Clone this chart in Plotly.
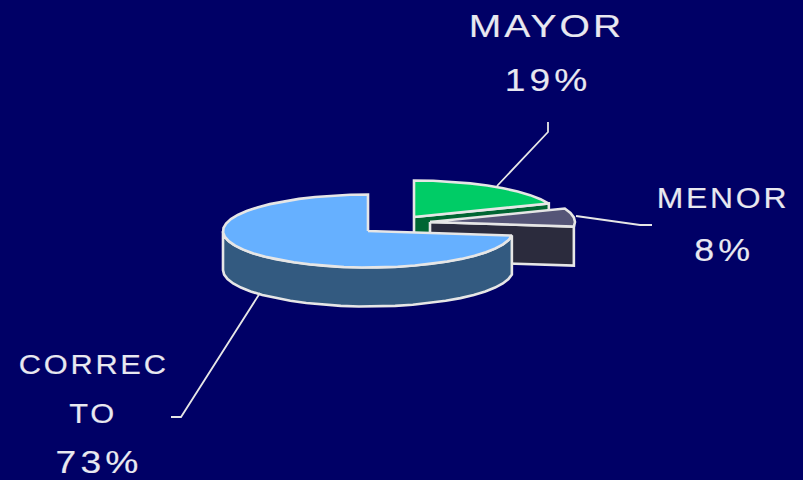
import json
import numpy as np
import plotly.graph_objects as go

categories = ["CORRECTO", "MAYOR", "MENOR"]
values = [73, 19, 8]
label_lines = [["CORREC", "TO", "73%"], ["MAYOR", "19%"], ["MENOR", "8%"]]

BG = "#000066"
EDGE = "#e6e6e6"
TEXT = "#e8e8f0"
top_colors = {"CORRECTO": "#66b0ff", "MAYOR": "#00cc66", "MENOR": "#555577"}
wall_colors = {"CORRECTO": "#335a80", "MAYOR": "#006633", "MENOR": "#2b2b3d"}
centres = {"CORRECTO": (368, 231), "MAYOR": (414, 217), "MENOR": (430, 222)}
RX, RY, DEPTH = 145, 36.5, 39

# Angular spans follow the values: clockwise from 12 o'clock, starting at MAYOR
deg = {c: v * 3.6 for c, v in zip(categories, values)}
spans = {
    "MAYOR": (90, 90 - deg["MAYOR"]),
    "MENOR": (90 - deg["MAYOR"], 90 - deg["MAYOR"] - deg["MENOR"]),
    "CORRECTO": (90 - deg["MAYOR"] - deg["MENOR"], 90 - 360),
}


def arc(c, a0, a1, dy=0):
    n = max(3, int(abs(a1 - a0) / 7) + 1)
    t = np.radians(np.linspace(a0, a1, n))
    cx, cy = centres[c]
    return cx + RX * np.cos(t), cy - RY * np.sin(t) + dy


def poly(fig, xs, ys, color):
    fig.add_trace(go.Scatter(
        x=np.append(xs, xs[0]), y=np.append(ys, ys[0]), mode="lines",
        fill="toself", fillcolor=color, line=dict(color=EDGE, width=2.6),
        hoverinfo="skip", showlegend=False))


def cut_wall(fig, c, angle):
    cx, cy = centres[c]
    ex, ey = arc(c, angle, angle)
    ex, ey = ex[0], ey[0]
    poly(fig, np.array([cx, ex, ex, cx]), np.array([cy, ey, ey + DEPTH, cy + DEPTH]), wall_colors[c])


def top_face(fig, c):
    a0, a1 = spans[c]
    x, y = arc(c, a0, a1)
    cx, cy = centres[c]
    poly(fig, np.concatenate([[cx], x]), np.concatenate([[cy], y]), top_colors[c])


fig = go.Figure()

# Back slices first
cut_wall(fig, "MAYOR", spans["MAYOR"][1])
top_face(fig, "MAYOR")
cut_wall(fig, "MENOR", spans["MENOR"][1])
top_face(fig, "MENOR")

# Large slice: outer wall on the visible lower half, then its top
a_start, a_end = spans["CORRECTO"]
wx, wy = arc("CORRECTO", -180, a_start)
wx2, wy2 = arc("CORRECTO", a_start, -180, dy=DEPTH)
poly(fig, np.concatenate([wx, wx2]), np.concatenate([wy, wy2]), wall_colors["CORRECTO"])
top_face(fig, "CORRECTO")

leaders = {
    "MAYOR": ([548, 548, 497], [122, 132, 186]),
    "MENOR": ([652, 640, 576], [225, 225, 216]),
    "CORRECTO": ([171, 181, 260], [417, 417, 293]),
}
for c, (lx, ly) in leaders.items():
    fig.add_trace(go.Scatter(x=lx, y=ly, mode="lines", line=dict(color=EDGE, width=1.8),
                             hoverinfo="skip", showlegend=False))

# label -> x, y, font size, horizontal stretch, letter spacing
label_style = {
    "CORREC": (93, 364, 28, 1.1, 2.5),
    "TO": (93, 413, 28, 1.1, 2.5),
    "73%": (99, 462, 31, 1.2, 3.5),
    "MAYOR": (546, 26, 32, 1.22, 2.5),
    "19%": (548, 80, 32, 1.16, 3.5),
    "MENOR": (723, 198, 29, 1.1, 2.5),
    "8%": (724, 250, 32, 1.12, 3.5),
}
annotations = []
for lines in label_lines:
    for line in lines:
        ax, ay, size = label_style[line][:3]
        annotations.append(dict(x=ax, y=ay, text=line, showarrow=False, xanchor="center", yanchor="middle",
                                font=dict(family="Liberation Sans", size=size, color=TEXT)))

fig.update_layout(
    width=803, height=480, autosize=False,
    margin=dict(l=0, r=0, t=0, b=0),
    paper_bgcolor=BG, plot_bgcolor=BG,
    xaxis=dict(range=[0, 803], visible=False, fixedrange=True),
    yaxis=dict(range=[480, 0], visible=False, fixedrange=True),
    annotations=annotations, showlegend=False,
)

style = json.dumps({k: v[3:] for k, v in label_style.items()})
post = """
var style = %s;
document.querySelectorAll('.annotation-text').forEach(function(t){
  var s = style[t.textContent] || [1, 0];
  t.style.letterSpacing = s[1] + 'px';
  t.style.stroke='#e8e8f0';
  t.style.strokeWidth='0.15px';
  t.style.transformBox='fill-box';
  t.style.transformOrigin='center';
  t.style.transform='scaleX('+s[0]+')';
});
document.body.style.margin='0';
""" % style
fig.write_html("out.html", post_script=post, config={"displayModeBar": False})
